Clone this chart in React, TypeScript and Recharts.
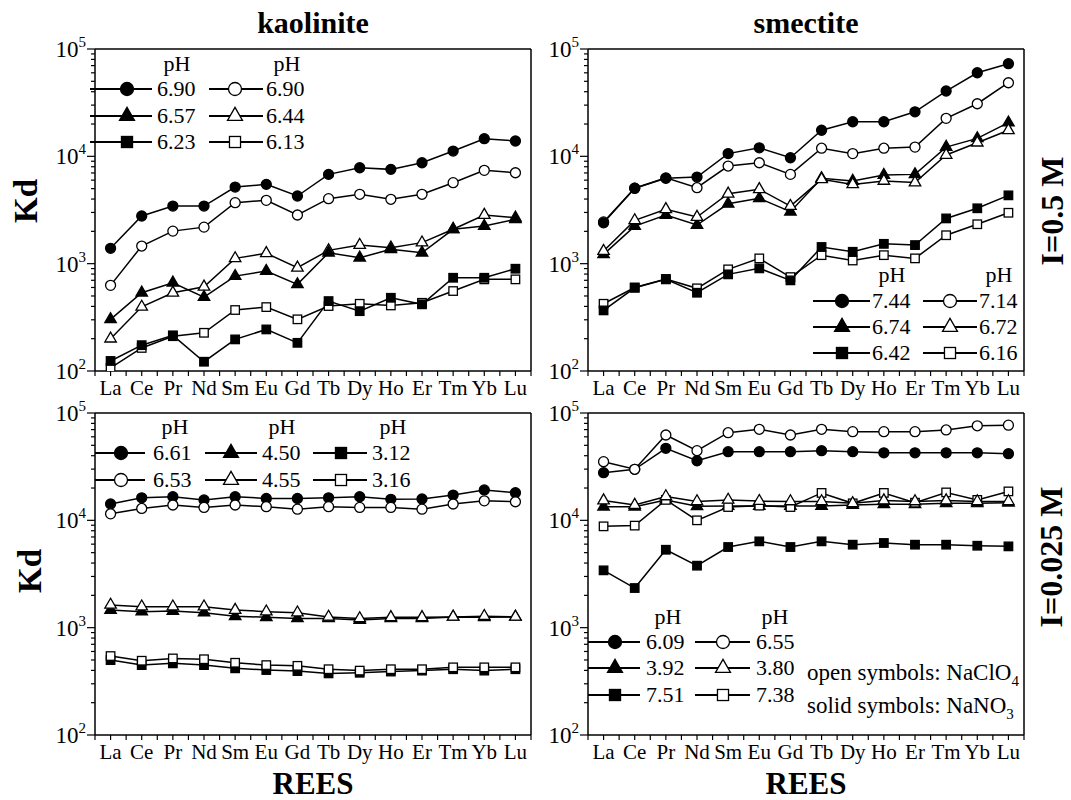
import React from 'react';
import { LineChart, Line, XAxis, YAxis, ReferenceLine } from 'recharts';

const REES = ['La', 'Ce', 'Pr', 'Nd', 'Sm', 'Eu', 'Gd', 'Tb', 'Dy', 'Ho', 'Er', 'Tm', 'Yb', 'Lu'];

// kaolinite, I = 0.5 M
const kaoHiSolidCircle = [1390, 2780, 3440, 3440, 5170, 5480, 4270, 6790, 7830, 7560, 8710, 11200, 14600, 13900];
const kaoHiOpenCircle = [628, 1460, 2010, 2190, 3700, 3890, 2840, 4030, 4430, 3980, 4430, 5680, 7410, 7030];
const kaoHiSolidTriangle = [303, 536, 664, 488, 766, 853, 641, 1264, 1135, 1359, 1264, 2090, 2240, 2590];
const kaoHiOpenTriangle = [200, 396, 536, 609, 1120, 1250, 916, 1330, 1490, 1410, 1570, 2090, 2840, 2680];
const kaoHiSolidSquare = [124, 174, 215, 122, 197, 244, 183, 448, 361, 481, 418, 739, 739, 897];
const kaoHiOpenSquare = [107, 164, 211, 227, 370, 394, 303, 403, 423, 408, 432, 556, 714, 714];

// smectite, I = 0.5 M
const smeHiSolidCircle = [2400, 5040, 6240, 6410, 10600, 12000, 9700, 17500, 21000, 21000, 26000, 40600, 60100, 73000];
const smeHiOpenCircle = [2450, 5040, 6300, 5100, 8120, 8710, 6790, 11900, 10600, 11900, 12200, 22600, 30900, 48500];
const smeHiSolidTriangle = [1220, 2240, 2840, 2290, 3610, 4060, 3050, 6240, 5890, 6690, 6790, 12200, 14700, 20600];
const smeHiOpenTriangle = [1310, 2530, 3210, 2720, 4480, 4930, 3440, 6100, 5480, 5900, 5700, 10300, 13400, 17500];
const smeHiSolidSquare = [367, 596, 714, 536, 795, 904, 699, 1430, 1290, 1530, 1490, 2640, 3280, 4330];
const smeHiOpenSquare = [423, 600, 720, 589, 885, 1120, 750, 1200, 1070, 1200, 1120, 1840, 2330, 2980];

// kaolinite, I = 0.025 M
const kaoLoSolidCircle = [14200, 16200, 16600, 15500, 16600, 16000, 16000, 16200, 16600, 15700, 15800, 17200, 19200, 18100];
const kaoLoOpenCircle = [11500, 12900, 13900, 13200, 13900, 13400, 12700, 13400, 13200, 13200, 12700, 14200, 15200, 14900];
const kaoLoSolidTriangle = [1460, 1410, 1430, 1380, 1280, 1250, 1220, 1220, 1180, 1220, 1220, 1260, 1250, 1260];
const kaoLoOpenTriangle = [1630, 1570, 1570, 1570, 1460, 1410, 1380, 1260, 1220, 1250, 1250, 1260, 1280, 1260];
const kaoLoSolidSquare = [499, 448, 465, 448, 418, 403, 394, 375, 380, 390, 398, 410, 398, 410];
const kaoLoOpenSquare = [544, 492, 517, 508, 471, 448, 441, 410, 398, 410, 410, 427, 427, 427];

// smectite, I = 0.025 M
const smeLoSolidCircle = [27800, 29900, 46900, 35900, 43600, 43600, 43600, 44600, 43600, 42600, 42600, 42600, 42600, 41800];
const smeLoOpenCircle = [35200, 29900, 62400, 44600, 65500, 70500, 62400, 70500, 67000, 67000, 67000, 69500, 76000, 77000];
const smeLoSolidTriangle = [13400, 13400, 15500, 13500, 13600, 13600, 13600, 13600, 13900, 14100, 14100, 14400, 14400, 14600];
const smeLoOpenTriangle = [15300, 13900, 16700, 15000, 15500, 15100, 15000, 15000, 14400, 15300, 15000, 15300, 15000, 15000];
const smeLoSolidSquare = [3420, 2340, 5320, 3780, 5640, 6370, 5640, 6370, 5930, 6150, 5930, 5930, 5800, 5720];
const smeLoOpenSquare = [8790, 8930, 15500, 10000, 13300, 13700, 13300, 18000, 14400, 18000, 14600, 18200, 15500, 18600];

const Y_MAJOR = [100, 1000, 10000, 100000];
const Y_MINOR_MULT = [2, 3, 4, 5, 6, 7, 8, 9];

const FONT = "'Liberation Serif', 'DejaVu Serif', serif";
const TXT: React.CSSProperties = { fontFamily: FONT };

type Shape = 'circle' | 'triangle' | 'square';

function Marker({ cx, cy, shape, filled, size }: { cx: number; cy: number; shape: Shape; filled: boolean; size: number }) {
  const fill = filled ? '#000' : '#fff';
  const sw = 1.3;
  if (cx == null || cy == null || isNaN(cx) || isNaN(cy)) return <g />;
  if (shape === 'circle') {
    return <circle cx={cx} cy={cy} r={size / 2} fill={fill} stroke="#000" strokeWidth={sw} />;
  }
  if (shape === 'square') {
    const s = size * 0.85;
    return <rect x={cx - s / 2} y={cy - s / 2} width={s} height={s} fill={fill} stroke="#000" strokeWidth={sw} />;
  }
  const s = size * 1.15;
  const h = s * 0.866;
  const pts = `${cx},${cy - (2 * h) / 3} ${cx - s / 2},${cy + h / 3} ${cx + s / 2},${cy + h / 3}`;
  return <polygon points={pts} fill={fill} stroke="#000" strokeWidth={sw} strokeLinejoin="miter" />;
}

type SeriesDef = { key: string; values: number[]; shape: Shape; filled: boolean };

const kaoHiSeries: SeriesDef[] = [
  { key: 'os', values: kaoHiOpenSquare, shape: 'square', filled: false },
  { key: 'ss', values: kaoHiSolidSquare, shape: 'square', filled: true },
  { key: 'ot', values: kaoHiOpenTriangle, shape: 'triangle', filled: false },
  { key: 'st', values: kaoHiSolidTriangle, shape: 'triangle', filled: true },
  { key: 'oc', values: kaoHiOpenCircle, shape: 'circle', filled: false },
  { key: 'sc', values: kaoHiSolidCircle, shape: 'circle', filled: true },
];
const smeHiSeries: SeriesDef[] = [
  { key: 'os', values: smeHiOpenSquare, shape: 'square', filled: false },
  { key: 'ss', values: smeHiSolidSquare, shape: 'square', filled: true },
  { key: 'st', values: smeHiSolidTriangle, shape: 'triangle', filled: true },
  { key: 'ot', values: smeHiOpenTriangle, shape: 'triangle', filled: false },
  { key: 'oc', values: smeHiOpenCircle, shape: 'circle', filled: false },
  { key: 'sc', values: smeHiSolidCircle, shape: 'circle', filled: true },
];
const kaoLoSeries: SeriesDef[] = [
  { key: 'ss', values: kaoLoSolidSquare, shape: 'square', filled: true },
  { key: 'os', values: kaoLoOpenSquare, shape: 'square', filled: false },
  { key: 'st', values: kaoLoSolidTriangle, shape: 'triangle', filled: true },
  { key: 'ot', values: kaoLoOpenTriangle, shape: 'triangle', filled: false },
  { key: 'sc', values: kaoLoSolidCircle, shape: 'circle', filled: true },
  { key: 'oc', values: kaoLoOpenCircle, shape: 'circle', filled: false },
];
const smeLoSeries: SeriesDef[] = [
  { key: 'ss', values: smeLoSolidSquare, shape: 'square', filled: true },
  { key: 'st', values: smeLoSolidTriangle, shape: 'triangle', filled: true },
  { key: 'os', values: smeLoOpenSquare, shape: 'square', filled: false },
  { key: 'ot', values: smeLoOpenTriangle, shape: 'triangle', filled: false },
  { key: 'sc', values: smeLoSolidCircle, shape: 'circle', filled: true },
  { key: 'oc', values: smeLoOpenCircle, shape: 'circle', filled: false },
];

function buildRows(series: SeriesDef[]) {
  return REES.map((ree, i) => {
    const row: Record<string, number | string> = { idx: i, ree };
    series.forEach((s) => {
      row[s.key] = s.values[i];
    });
    return row;
  });
}

const X_TICKS: number[] = [];
for (let i = -1; i <= REES.length * 2 - 1; i++) X_TICKS.push(i / 2);

const Y_TICKS: number[] = [];
Y_MAJOR.forEach((m, i) => {
  Y_TICKS.push(m);
  if (i < Y_MAJOR.length - 1) Y_MINOR_MULT.forEach((k) => Y_TICKS.push(m * k));
});

const XTick = (props: any) => {
  const { x, y, payload } = props;
  const v = payload.value as number;
  const major = Number.isInteger(v);
  return (
    <g>
      <line x1={x} x2={x} y1={y} y2={y + 5} stroke="#000" strokeWidth={1.2} />
      {major && v >= 0 && v < REES.length && (
        <text x={x} y={y + 24} textAnchor="middle" style={TXT} fontSize={21} fill="#000">
          {REES[v]}
        </text>
      )}
    </g>
  );
};

const YTick = (props: any) => {
  const { x, y, payload } = props;
  const v = payload.value as number;
  const exp = Math.round(Math.log10(v));
  const major = Math.abs(Math.pow(10, exp) - v) < 1e-6;
  return (
    <g>
      <line x1={x} x2={x - (major ? 8 : 4)} y1={y} y2={y} stroke="#000" strokeWidth={1.2} />
      {major && (
        <text x={x - 9} y={y + 8} textAnchor="end" style={TXT} fontSize={23} fill="#000">
          10
          <tspan dy={-10} fontSize={15}>
            {exp}
          </tspan>
        </text>
      )}
    </g>
  );
};

function Panel({ left, top, series }: { left: number; top: number; series: SeriesDef[] }) {
  const data = buildRows(series);
  return (
    <div style={{ position: 'absolute', left, top, width: 545, height: 400 }}>
      <LineChart width={545} height={400} data={data} margin={{ top: 49, right: 14, left: 0, bottom: 0 }}>
        <XAxis
          dataKey="idx"
          type="number"
          domain={[-0.5, REES.length - 0.5]}
          ticks={X_TICKS}
          interval={0}
          allowDecimals
          tick={XTick}
          tickLine={false}
          tickSize={0}
          tickMargin={0}
          height={29}
          axisLine={{ stroke: '#000', strokeWidth: 1.5 }}
        />
        <YAxis
          type="number"
          scale="log"
          domain={[100, 100000]}
          allowDataOverflow
          ticks={Y_TICKS}
          interval={0}
          tick={YTick}
          tickLine={false}
          tickSize={0}
          tickMargin={0}
          width={95}
          axisLine={{ stroke: '#000', strokeWidth: 1.5 }}
        />
        <ReferenceLine y={100000} stroke="#000" strokeWidth={1.5} />
        <ReferenceLine x={REES.length - 0.5} stroke="#000" strokeWidth={1.5} />
        {series.map((s) => (
          <Line
            key={s.key}
            type="linear"
            dataKey={s.key}
            stroke="#000"
            strokeWidth={1.5}
            isAnimationActive={false}
            activeDot={false}
            dot={(p: any) => (
              <Marker key={`${s.key}-${p.index}`} cx={p.cx} cy={p.cy} shape={s.shape} filled={s.filled} size={10} />
            )}
          />
        ))}
      </LineChart>
    </div>
  );
}

function LegendItem({ x1, x2, mx, tx, y, shape, filled, label }: { x1: number; x2: number; mx: number; tx: number; y: number; shape: Shape; filled: boolean; label: string }) {
  return (
    <g>
      <line x1={x1} x2={x2} y1={y} y2={y} stroke="#000" strokeWidth={2} />
      <Marker cx={mx} cy={y} shape={shape} filled={filled} size={13} />
      <text x={tx} y={y + 7} style={TXT} fontSize={22} fill="#000">
        {label}
      </text>
    </g>
  );
}

function Header({ x, y }: { x: number; y: number }) {
  return (
    <text x={x} y={y + 7} textAnchor="middle" style={TXT} fontSize={22} fill="#000">
      pH
    </text>
  );
}

function Overlay() {
  const bold: React.CSSProperties = { fontFamily: FONT, fontWeight: 700 };
  return (
    <svg width={1071} height={800} style={{ position: 'absolute', left: 0, top: 0, pointerEvents: 'none' }}>
      <text x={313} y={33} textAnchor="middle" fontSize={30} style={bold} fill="#000">kaolinite</text>
      <text x={806} y={33} textAnchor="middle" fontSize={30} style={bold} fill="#000">smectite</text>
      <text x={313} y={794} textAnchor="middle" fontSize={31} style={bold} fill="#000">REES</text>
      <text x={806} y={794} textAnchor="middle" fontSize={31} style={bold} fill="#000">REES</text>
      <text transform="translate(37,201) rotate(-90)" textAnchor="middle" fontSize={33} style={bold} fill="#000">Kd</text>
      <text transform="translate(41,571) rotate(-90)" textAnchor="middle" fontSize={33} style={bold} fill="#000">Kd</text>
      <text transform="translate(1063,211) rotate(-90)" textAnchor="middle" fontSize={32} style={bold} fill="#000">I=0.5 M</text>
      <text transform="translate(1062,557) rotate(-90)" textAnchor="middle" fontSize={32} style={bold} fill="#000">I=0.025 M</text>

      {/* kaolinite I=0.5 */}
      <Header x={177} y={64} />
      <Header x={287} y={64} />
      <LegendItem x1={90} x2={152} mx={127} tx={157} y={89} shape="circle" filled label="6.90" />
      <LegendItem x1={90} x2={152} mx={127} tx={157} y={116} shape="triangle" filled label="6.57" />
      <LegendItem x1={90} x2={152} mx={127} tx={157} y={142} shape="square" filled label="6.23" />
      <LegendItem x1={209} x2={263} mx={235} tx={266} y={89} shape="circle" filled={false} label="6.90" />
      <LegendItem x1={209} x2={263} mx={235} tx={266} y={116} shape="triangle" filled={false} label="6.44" />
      <LegendItem x1={209} x2={263} mx={235} tx={266} y={142} shape="square" filled={false} label="6.13" />

      {/* smectite I=0.5 */}
      <Header x={892} y={275} />
      <Header x={999} y={275} />
      <LegendItem x1={813} x2={870} mx={842} tx={872} y={301} shape="circle" filled label="7.44" />
      <LegendItem x1={813} x2={870} mx={842} tx={872} y={327} shape="triangle" filled label="6.74" />
      <LegendItem x1={813} x2={870} mx={842} tx={872} y={353} shape="square" filled label="6.42" />
      <LegendItem x1={923} x2={977} mx={950} tx={979} y={301} shape="circle" filled={false} label="7.14" />
      <LegendItem x1={923} x2={977} mx={950} tx={979} y={327} shape="triangle" filled={false} label="6.72" />
      <LegendItem x1={923} x2={977} mx={950} tx={979} y={353} shape="square" filled={false} label="6.16" />

      {/* kaolinite I=0.025 */}
      <Header x={175} y={427} />
      <Header x={282} y={427} />
      <Header x={393} y={427} />
      <LegendItem x1={95} x2={145} mx={121} tx={153} y={453} shape="circle" filled label="6.61" />
      <LegendItem x1={95} x2={145} mx={121} tx={153} y={480} shape="circle" filled={false} label="6.53" />
      <LegendItem x1={205} x2={257} mx={231} tx={262} y={453} shape="triangle" filled label="4.50" />
      <LegendItem x1={205} x2={257} mx={231} tx={262} y={480} shape="triangle" filled={false} label="4.55" />
      <LegendItem x1={313} x2={367} mx={341} tx={372} y={453} shape="square" filled label="3.12" />
      <LegendItem x1={313} x2={367} mx={341} tx={372} y={480} shape="square" filled={false} label="3.16" />

      {/* smectite I=0.025 */}
      <Header x={668} y={617} />
      <Header x={775} y={617} />
      <LegendItem x1={588} x2={640} mx={615} tx={646} y={642} shape="circle" filled label="6.09" />
      <LegendItem x1={588} x2={640} mx={615} tx={646} y={668} shape="triangle" filled label="3.92" />
      <LegendItem x1={588} x2={640} mx={615} tx={646} y={695} shape="square" filled label="7.51" />
      <LegendItem x1={695} x2={750} mx={723} tx={756} y={642} shape="circle" filled={false} label="6.55" />
      <LegendItem x1={695} x2={750} mx={723} tx={756} y={668} shape="triangle" filled={false} label="3.80" />
      <LegendItem x1={695} x2={750} mx={723} tx={756} y={695} shape="square" filled={false} label="7.38" />
      <text x={807} y={680} style={TXT} fontSize={23} fill="#000">
        open symbols: NaClO<tspan dy={6} fontSize={15}>4</tspan>
      </text>
      <text x={807} y={713} style={TXT} fontSize={23} fill="#000">
        solid symbols: NaNO<tspan dy={6} fontSize={15}>3</tspan>
      </text>
    </svg>
  );
}

export default function App() {
  return (
    <div style={{ position: 'absolute', left: 0, top: 0, width: 1071, height: 800, background: '#fff', overflow: 'hidden' }}>
      <Panel left={0} top={0} series={kaoHiSeries} />
      <Panel left={493} top={0} series={smeHiSeries} />
      <Panel left={0} top={364} series={kaoLoSeries} />
      <Panel left={493} top={364} series={smeLoSeries} />
      <Overlay />
    </div>
  );
}
